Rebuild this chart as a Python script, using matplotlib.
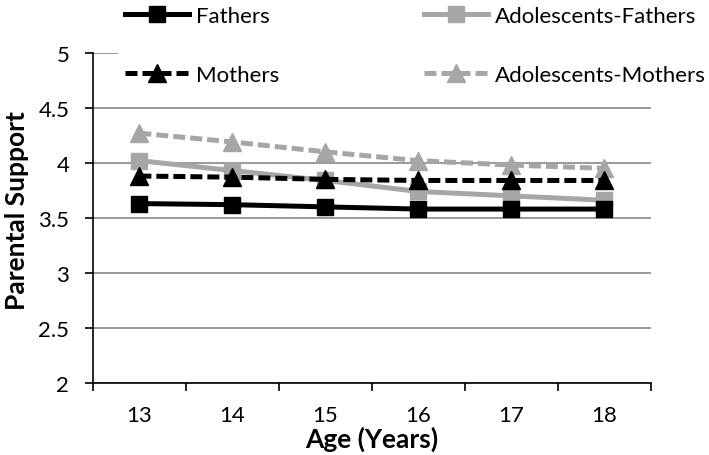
import matplotlib
matplotlib.use("Agg")
import matplotlib.pyplot as plt
import numpy as np

plt.rcParams['font.family'] = ['Lato', 'DejaVu Sans']

ages = ["13", "14", "15", "16", "17", "18"]
fathers = [3.63, 3.62, 3.60, 3.58, 3.58, 3.58]
mothers = [3.88, 3.87, 3.85, 3.84, 3.84, 3.84]
adol_fathers = [4.02, 3.93, 3.84, 3.74, 3.70, 3.66]
adol_mothers = [4.27, 4.19, 4.10, 4.02, 3.98, 3.95]
yticks = [2, 2.5, 3, 3.5, 4, 4.5, 5]
ytick_labels = ["2", "2.5", "3", "3.5", "4", "4.5", "5"]

fig = plt.figure(figsize=(7.09, 4.56), dpi=100)
ax = fig.add_axes([0.131, 0.158, 0.787, 0.724])

x = np.arange(len(ages))
lw = 3.6
gray = '#a6a6a6'
l1, = ax.plot(x, fathers, color='black', lw=lw, marker='s', ms=12, label='Fathers', zorder=5)
l2, = ax.plot(x, mothers, color='black', lw=lw, ls=(0, (2.4, 1.0)), marker='^', ms=13, label='Mothers', zorder=4)
l3, = ax.plot(x, adol_fathers, color=gray, lw=lw, marker='s', ms=12, label='Adolescents-Fathers', zorder=3)
l4, = ax.plot(x, adol_mothers, color=gray, lw=lw, ls=(0, (2.4, 1.0)), marker='^', ms=13, label='Adolescents-Mothers', zorder=2)

ax.set_xlim(-0.5, len(ages) - 0.5)
ax.set_ylim(2, 5)
ax.set_yticks(yticks)
ax.set_yticklabels(ytick_labels, fontsize=16)
ax.set_xticks(x)
ax.set_xticklabels(ages, fontsize=16)
ax.set_xticks(np.arange(-0.5, len(ages)), minor=True)
ax.tick_params(axis='x', which='major', length=0, pad=16)
ax.tick_params(axis='x', which='minor', length=6, width=1.2, direction='out')
ax.tick_params(axis='y', length=6, width=1.2, direction='out', pad=11)

ax.yaxis.grid(True, color='#888888', lw=1.2)
ax.set_axisbelow(True)
for s in ['top', 'right']:
    ax.spines[s].set_visible(False)
ax.spines['left'].set_linewidth(1.2)
ax.spines['bottom'].set_linewidth(1.2)

ax.set_xlabel('Age (Years)', fontsize=19, fontweight='bold', labelpad=0)
ax.set_ylabel('Parental Support', fontsize=19, fontweight='bold')
ax.yaxis.set_label_coords(-0.115, 0.524)

leg = fig.legend(handles=[l1, l2, l3, l4], ncol=2, loc='upper left',
                 bbox_to_anchor=(0.1665, 1.0), frameon=True, fontsize=16,
                 handlelength=2.9, columnspacing=6.5, labelspacing=1.77,
                 handletextpad=0.3, borderaxespad=0, borderpad=0.3)
leg.get_frame().set_edgecolor('none')
leg.get_frame().set_facecolor('white')
leg.get_frame().set_alpha(1)
leg.get_frame().set_boxstyle('square', pad=0)

fig.savefig('out.png', dpi=100)
